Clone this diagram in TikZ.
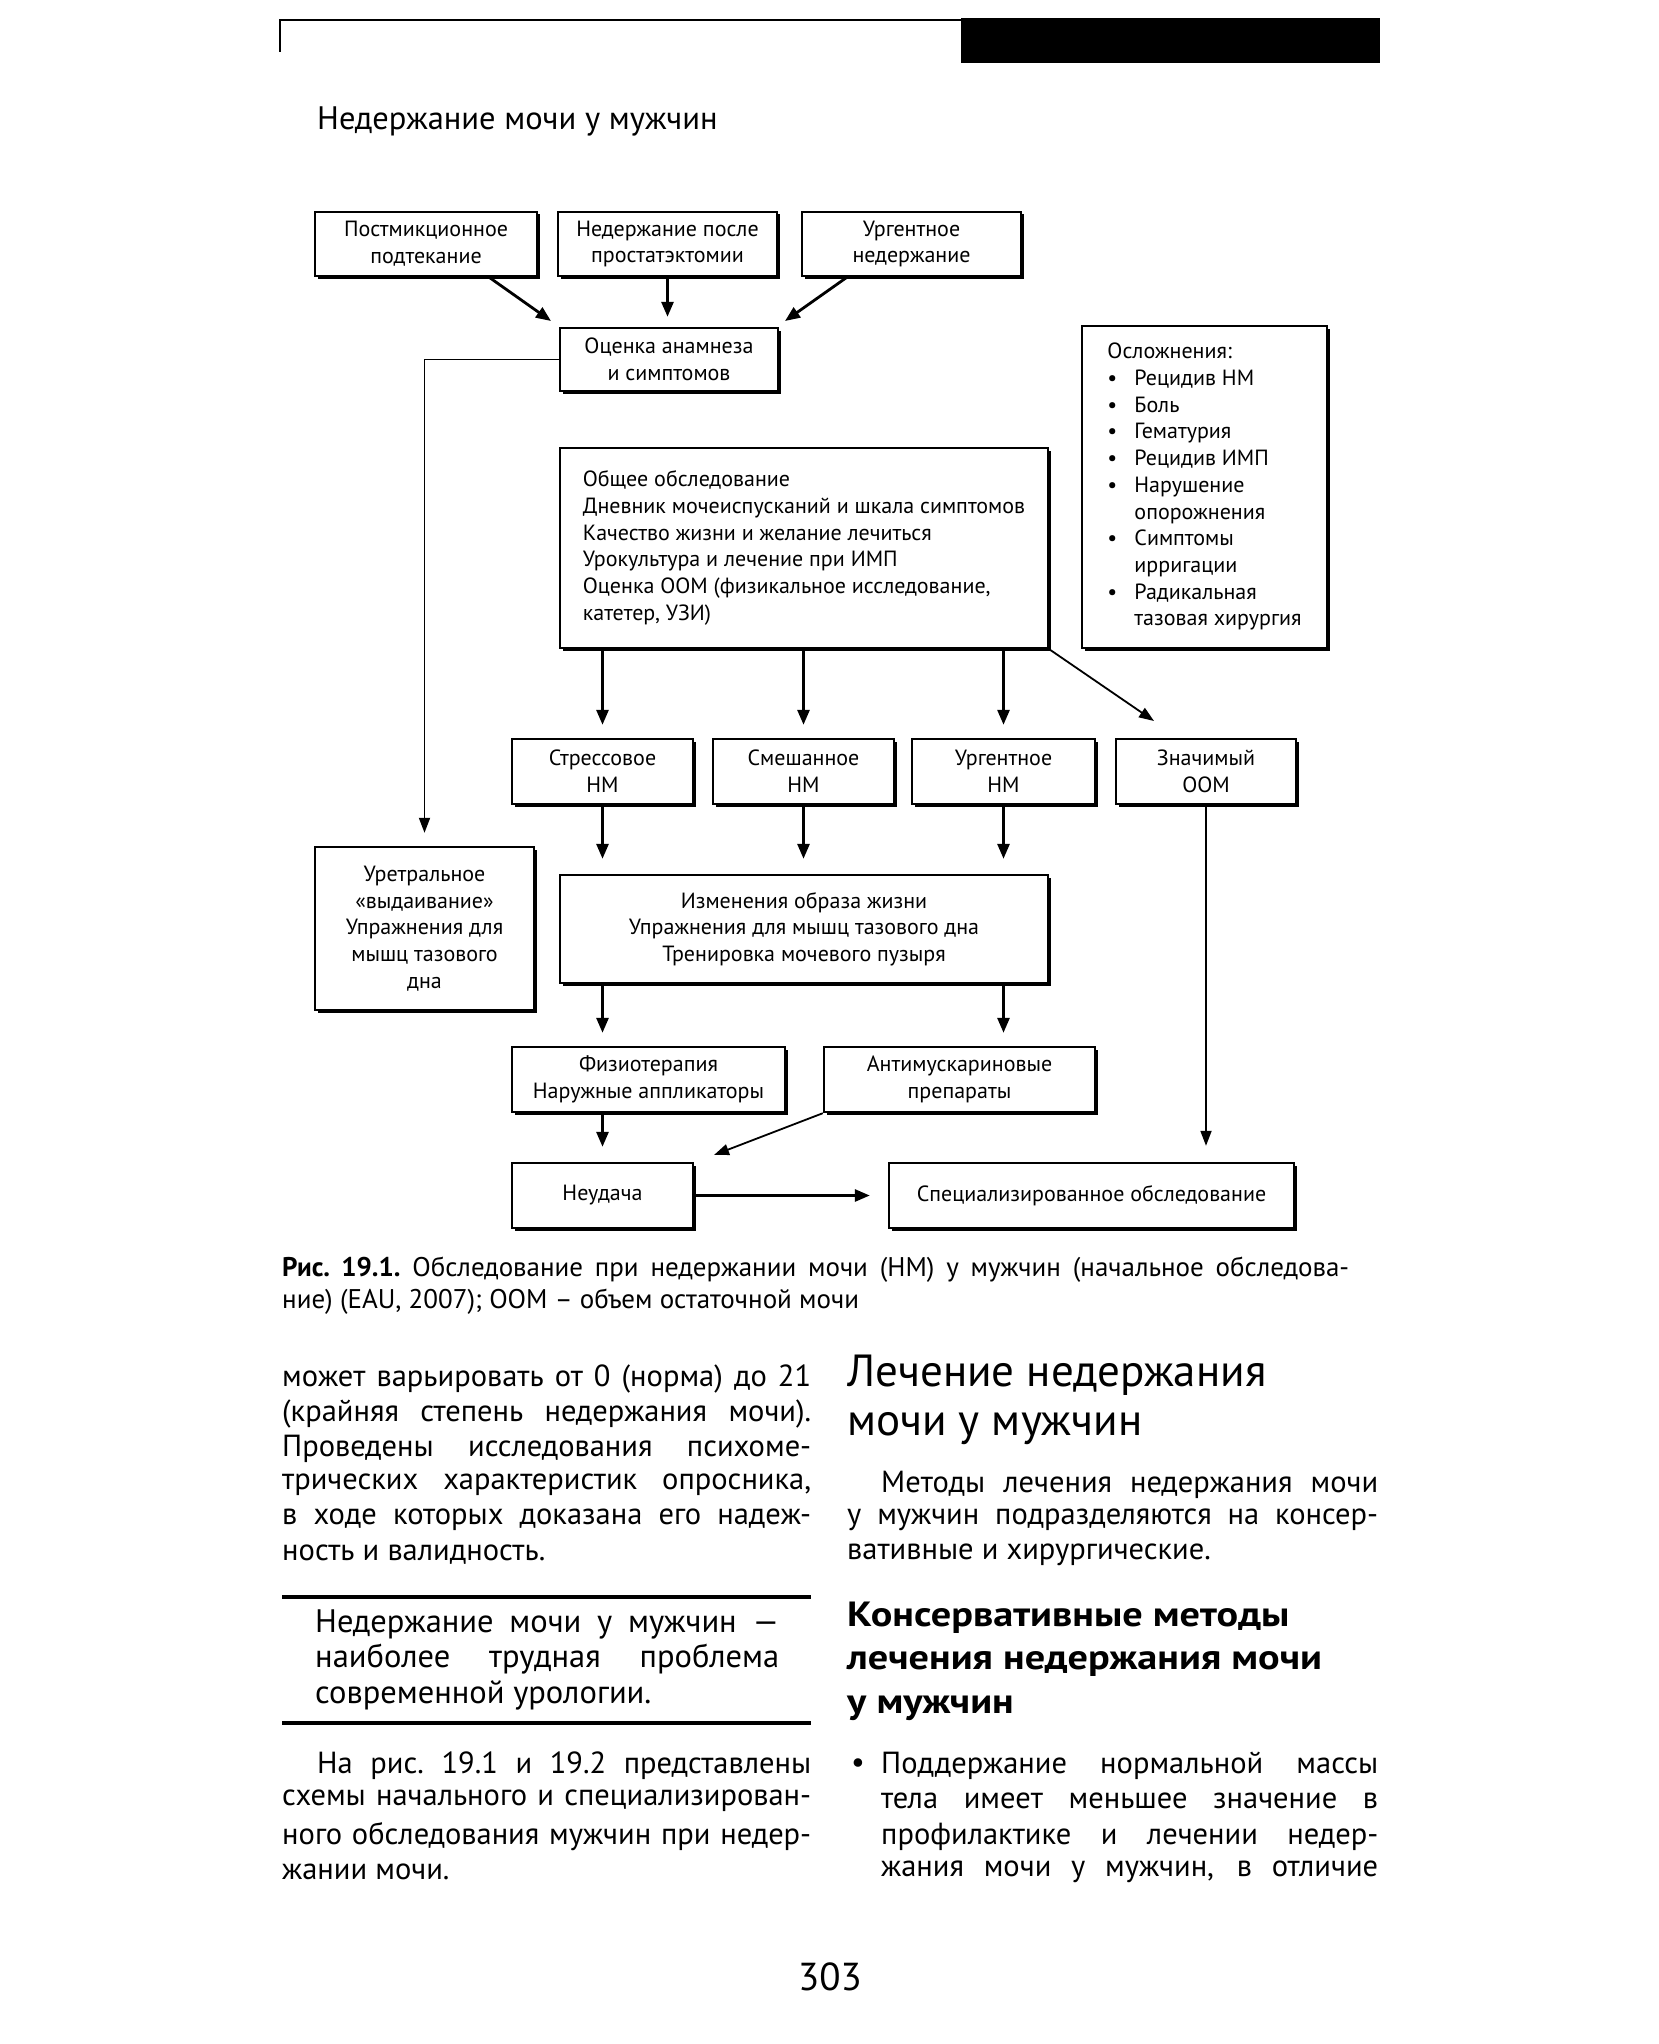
\documentclass[tikz,border=0pt]{standalone}
\usepackage{fontspec}
\setmainfont{PT Sans}
\newfontfamily\widefamily[FakeStretch=1.15]{PT Sans}
\usetikzlibrary{arrows.meta,shadows}

\newcommand{\boxfont}{\fontsize{22}{26.7}\selectfont}
\newcommand{\bodyfont}{\fontsize{30.5}{35}\selectfont}
\newcommand{\quotefont}{\fontsize{32.5}{35}\selectfont}
\newcommand{\capfont}{\fontsize{27}{32}\selectfont}

\begin{document}
\begin{tikzpicture}[x=1pt,y=-1pt]

    \useasboundingbox (0,0) rectangle (1658,2044);

    % Common styles
    \tikzset{
        box/.style={draw, line width=2.4pt, fill=white, align=center,
            font=\boxfont, inner sep=4pt,
            general shadow={fill=black, shadow xshift=2.5pt, shadow yshift=-2.5pt}},
        arr/.style={line width=2.8pt, -{Triangle[length=15pt,width=12pt]}},
        thinarr/.style={line width=1.8pt, -{Triangle[length=15pt,width=11pt]}},
        bodyline/.style={anchor=west, inner sep=0pt, font=\bodyfont},
        quoteline/.style={anchor=west, inner sep=0pt, font=\quotefont},
        capline/.style={anchor=west, inner sep=0pt, font=\capfont}
    }

    % ===================== Running head =====================
    \draw[line width=2.5pt] (280,52) -- (280,20) -- (961,20);
    \fill (961,18) rectangle (1380,63);
    \node[anchor=west, inner sep=0pt, font=\fontsize{32.5}{36}\selectfont]
        (runhead) at (317,121) {Недержание мочи у мужчин};

    % ===================== Flowchart: top row =====================
    \node[box, minimum width=222pt, minimum height=64pt] (post) at (426,244)
        {Постмикционное\\подтекание};
    \node[box, minimum width=219pt, minimum height=64pt] (prost) at (667.5,244)
        {Недержание после\\простатэктомии};
    \node[box, minimum width=219pt, minimum height=64pt] (urg) at (911.5,244)
        {Ургентное\\недержание};
    \node[box, minimum width=218pt, minimum height=63pt] (anam) at (669,359.5)
        {Оценка анамнеза\\и симптомов};

    \coordinate (postend) at (551,321);
    \coordinate (urgend) at (785,321);
    \draw[arr] ([xshift=63pt]post.south) -- (postend);
    \draw[arr, shorten >=10pt] (prost.south) -- (prost.south |- anam.north);
    \draw[arr] ([xshift=-64.5pt]urg.south) -- (urgend);

    % ===================== Complications =====================
    \node[box, minimum width=245pt, minimum height=322pt] (compl) at (1204.5,487)
        {\begin{tabular}{@{}l@{}}
         Осложнения:\\
         \makebox[27pt][l]{\textbullet}Рецидив НМ\\
         \makebox[27pt][l]{\textbullet}Боль\\
         \makebox[27pt][l]{\textbullet}Гематурия\\
         \makebox[27pt][l]{\textbullet}Рецидив ИМП\\
         \makebox[27pt][l]{\textbullet}Нарушение\\
         \hspace*{27pt}опорожнения\\
         \makebox[27pt][l]{\textbullet}Симптомы\\
         \hspace*{27pt}ирригации\\
         \makebox[27pt][l]{\textbullet}Радикальная\\
         \hspace*{27pt}тазовая хирургия
         \end{tabular}};

    % ===================== General examination =====================
    \node[box, align=left, minimum width=488pt, minimum height=200pt] (general) at (804,548)
        {Общее обследование\\
         Дневник мочеиспусканий и шкала симптомов\\
         Качество жизни и желание лечиться\\
         Урокультура и лечение при ИМП\\
         Оценка ООМ (физикальное исследование,\\
         катетер, УЗИ)};

    % ===================== Diagnosis row =====================
    \node[box, minimum width=181pt, minimum height=65pt] (stress) at (602.5,771.5)
        {Стрессовое\\НМ};
    \node[box, minimum width=181pt, minimum height=65pt] (mixed) at (803.5,771.5)
        {Смешанное\\НМ};
    \node[box, minimum width=183pt, minimum height=65pt] (urgnm) at (1003.5,771.5)
        {Ургентное\\НМ};
    \node[box, minimum width=180pt, minimum height=65pt] (pvr) at (1206,771.5)
        {Значимый\\ООМ};

    \coordinate (pvrend) at (1154,721);
    \draw[arr, shorten >=13pt] (stress.north |- general.south) -- (stress.north);
    \draw[arr, shorten >=13pt] (mixed.north |- general.south) -- (mixed.north);
    \draw[arr, shorten >=13pt] (urgnm.north |- general.south) -- (urgnm.north);
    \draw[line width=1.8pt, -{Triangle[length=15pt,width=11pt]}] (general.south east) -- (pvrend);

    % ===================== Treatment =====================
    \node[box, minimum width=219pt, minimum height=163pt] (urethral) at (424.5,928.5)
        {Уретральное\\«выдаивание»\\Упражнения для\\мышц тазового\\дна};
    \draw[thinarr, shorten >=13pt] (anam.west) -| (urethral.north);

    \node[box, minimum width=488pt, minimum height=108pt] (lifestyle) at (804,929)
        {Изменения образа жизни\\
         Упражнения для мышц тазового дна\\
         Тренировка мочевого пузыря};
    \draw[arr, shorten >=15pt] (stress.south) -- (stress.south |- lifestyle.north);
    \draw[arr, shorten >=15pt] (mixed.south) -- (mixed.south |- lifestyle.north);
    \draw[arr, shorten >=15pt] (urgnm.south) -- (urgnm.south |- lifestyle.north);

    \node[box, minimum width=273pt, minimum height=65pt] (physio) at (648.5,1079.5)
        {Физиотерапия\\Наружные аппликаторы};
    \node[box, minimum width=271pt, minimum height=65pt] (antimusc) at (959.5,1079.5)
        {Антимускариновые\\препараты};
    \draw[arr, shorten >=13pt] (stress.south |- lifestyle.south) -- (stress.south |- physio.north);
    \draw[arr, shorten >=13pt] (urgnm.south |- lifestyle.south) -- (urgnm.south |- antimusc.north);

    % ===================== Outcome =====================
    \node[box, minimum width=181pt, minimum height=65pt] (fail) at (602.5,1195.5)
        {Неудача};
    \node[box, minimum width=405pt, minimum height=65pt] (special) at (1091.5,1195.5)
        {Специализированное обследование};

    \coordinate (antiend) at (714,1155);
    \draw[arr, shorten >=15pt] (fail.north |- physio.south) -- (fail.north);
    \draw[line width=1.8pt, -{Triangle[length=15pt,width=11pt]}] (antimusc.south west) -- (antiend);
    \draw[arr, shorten >=18pt] (fail.east) -- (special.west);
    \draw[thinarr, shorten >=16pt] (pvr.south) -- (pvr.south |- special.north);

    % ===================== Caption =====================
    \node[capline] (cap1) at (282,1270)
        {\makebox[1067pt][s]{\textbf{Рис.\ 19.1.}\ Обследование при недержании мочи (НМ) у мужчин (начальное обследова-}};
    \node[capline] (cap2) at (282,1302)
        {ние) (EAU, 2007); ООМ – объем остаточной мочи};

    % ===================== Left column =====================
    \node[bodyline] (la1) at (282,1379) {\makebox[529pt][s]{может варьировать от 0 (норма) до 21}};
    \node[bodyline] (la2) at (282,1414) {\makebox[529pt][s]{(крайняя степень недержания мочи).}};
    \node[bodyline] (la3) at (282,1449) {\makebox[529pt][s]{Проведены исследования психоме-}};
    \node[bodyline] (la4) at (282,1485) {\makebox[529pt][s]{трических характеристик опросника,}};
    \node[bodyline] (la5) at (282,1520) {\makebox[529pt][s]{в ходе которых доказана его надеж-}};
    \node[bodyline] (la6) at (282,1555) {ность и валидность.};

    \draw[line width=4.5pt] (282,1597) -- (811,1597);
    \node[quoteline] (q1) at (315,1624) {\makebox[464pt][s]{Недержание мочи у мужчин —}};
    \node[quoteline] (q2) at (315,1659) {\makebox[464pt][s]{наиболее трудная проблема}};
    \node[quoteline] (q3) at (315,1695) {современной урологии.};
    \draw[line width=4.5pt] (282,1723) -- (811,1723);

    \node[bodyline] (lb1) at (317,1766) {\makebox[494pt][s]{На рис.\ 19.1 и 19.2 представлены}};
    \node[bodyline] (lb2) at (282,1801) {\makebox[529pt][s]{схемы начального и специализирован-}};
    \node[bodyline] (lb3) at (282,1837) {\makebox[529pt][s]{ного обследования мужчин при недер-}};
    \node[bodyline] (lb4) at (282,1872) {жании мочи.};

    % ===================== Right column =====================
    \node[anchor=west, inner sep=0pt, font=\fontsize{45}{50}\selectfont]
        (head1) at (847,1375) {Лечение недержания};
    \node[anchor=west, inner sep=0pt, font=\fontsize{45}{50}\selectfont]
        (head2) at (847,1429) {мочи у мужчин};

    \node[bodyline] (ra1) at (881,1485) {\makebox[497pt][s]{Методы лечения недержания мочи}};
    \node[bodyline] (ra2) at (847,1520) {\makebox[531pt][s]{у мужчин подразделяются на консер-}};
    \node[bodyline] (ra3) at (847,1555) {вативные и хирургические.};

    \node[anchor=west, inner sep=0pt, font=\widefamily\fontsize{35}{44}\selectfont\bfseries]
        (sub1) at (847,1618) {Консервативные методы};
    \node[anchor=west, inner sep=0pt, font=\widefamily\fontsize{35}{44}\selectfont\bfseries]
        (sub2) at (847,1664) {лечения недержания мочи};
    \node[anchor=west, inner sep=0pt, font=\widefamily\fontsize{35}{44}\selectfont\bfseries]
        (sub3) at (847,1708) {у мужчин};

    \node[bodyline] (bul) at (851,1766) {\textbullet};
    \node[bodyline] (rb1) at (881,1766) {\makebox[497pt][s]{Поддержание нормальной массы}};
    \node[bodyline] (rb2) at (881,1801) {\makebox[497pt][s]{тела имеет меньшее значение в}};
    \node[bodyline] (rb3) at (881,1837) {\makebox[497pt][s]{профилактике и лечении недер-}};
    \node[bodyline] (rb4) at (881,1872) {\makebox[497pt][s]{жания мочи у мужчин, в отличие}};

    % ===================== Page number =====================
    \node[inner sep=0pt, font=\fontsize{39}{42}\selectfont] (pagenum) at (830,1977) {303};

\end{tikzpicture}
\end{document}
